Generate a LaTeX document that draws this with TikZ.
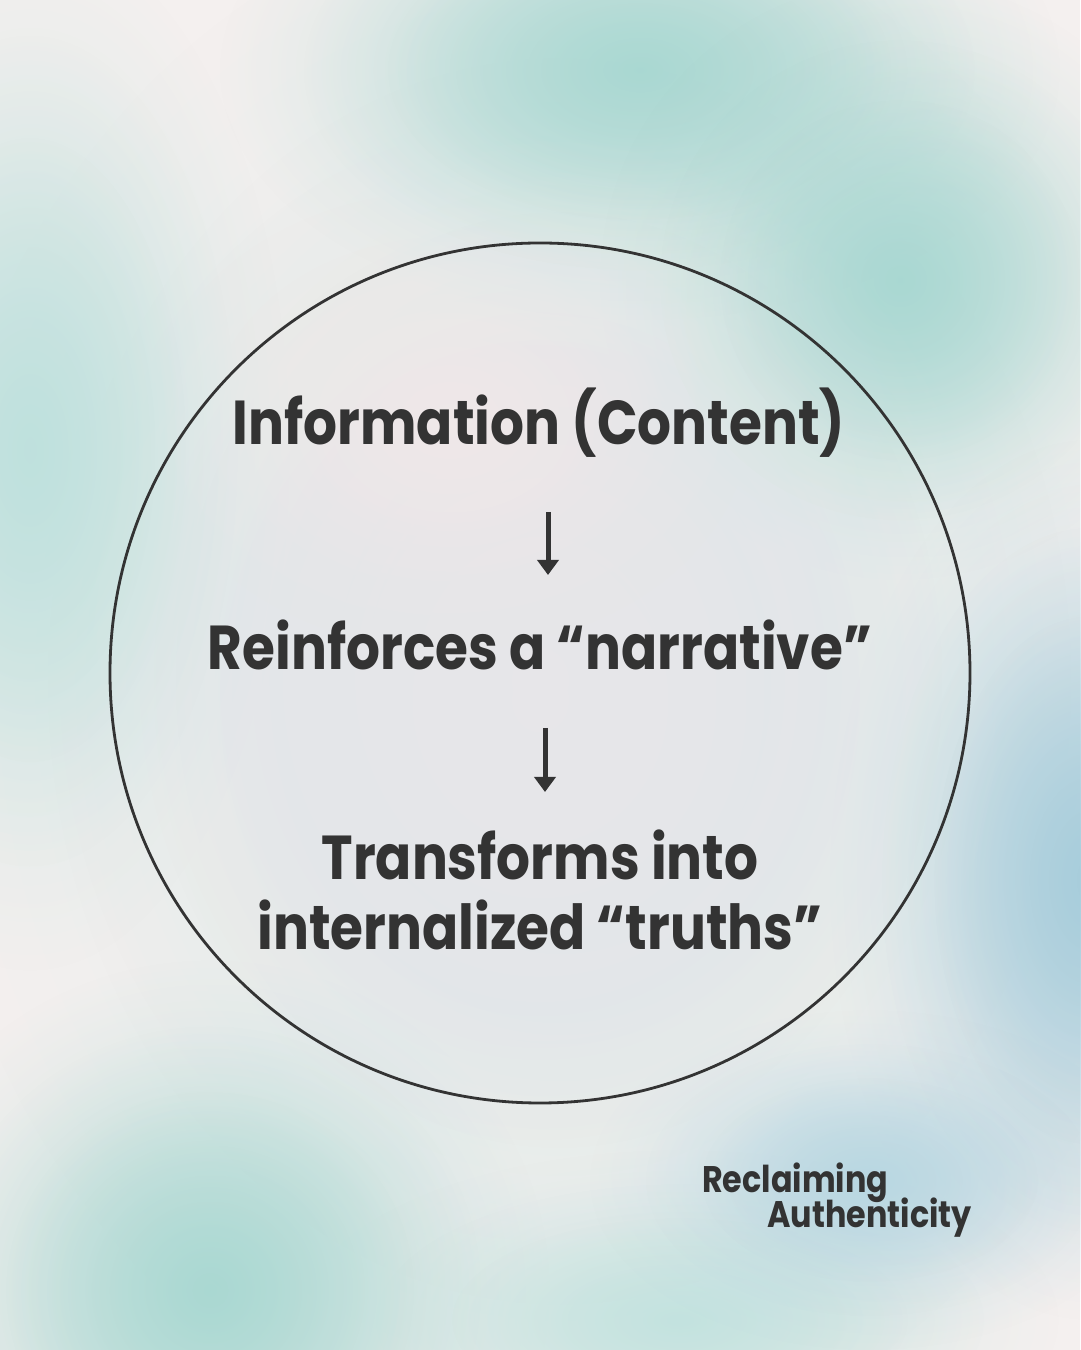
\documentclass[tikz,border=0pt]{standalone}
\usepackage{fontspec}
\setmainfont{Poppins}[FakeStretch=0.86]
\usetikzlibrary{arrows.meta,positioning,fadings}
\definecolor{ink}{HTML}{333333}
\definecolor{paper}{HTML}{F4F0EF}
\definecolor{tealmist}{HTML}{A3D6D0}
\definecolor{bluemist}{HTML}{A0CADA}
\definecolor{greymist}{HTML}{E8E6E9}
\definecolor{rosemist}{HTML}{F1E9E8}
\tikzfading[name=soft, inner color=transparent!0, outer color=transparent!100]
\tikzset{
  blob/.style={fill=#1,path fading=soft,fill opacity=0.55},
  headline/.style={font=\fontsize{62}{70}\selectfont\bfseries,text=ink,inner sep=0pt,align=center},
  brand/.style={font=\fontsize{37}{40}\selectfont\bfseries,text=ink,inner sep=0pt},
  flow/.style={draw=ink,line width=5pt,-{Triangle[length=15pt,width=21pt]}},
}

\begin{document}
\begin{tikzpicture}[x=1pt,y=1pt]
 \def\mist#1#2#3#4{\foreach \k in {1,0.8,0.6}{\fill[blob=#1] (#2) ellipse [x radius={#3*\k*1pt}, y radius={#4*\k*1pt}];}}
 \useasboundingbox (0,0) rectangle (1080,1350);
 % soft background
 \fill[paper] (0,0) rectangle (1080,1350);
 \mist{tealmist!45}{560,670}{640}{780}
 \mist{tealmist}{640,1280}{420}{250}
 \mist{tealmist}{900,1070}{300}{300}
 \mist{tealmist!75}{30,900}{260}{520}
 \mist{tealmist}{210,60}{340}{330}
 \mist{tealmist!70}{680,30}{380}{170}
 \mist{bluemist}{1090,470}{260}{440}
 \mist{bluemist!80}{870,170}{280}{170}
 \mist{greymist}{540,670}{480}{560}
 \mist{greymist}{540,670}{400}{460}
 \mist{greymist}{540,650}{320}{360}
 \mist{rosemist}{450,930}{300}{230}
 % ring
 \node[draw=ink,line width=2.8pt,circle,minimum size=860pt,inner sep=0pt] (ring) at (540,677) {};
 % steps
 \node[headline,anchor=base] (info) at (539,905) {Information (Content)};
 \node[headline,anchor=base] (reinf) at (540,680) {Reinforces a “narrative”};
 \node[headline,anchor=base] (trans) at (540,400) {Transforms into\\internalized “truths”};
 \draw[flow] ([xshift=9pt,yshift=-67pt]info.base) -- ([xshift=8pt,yshift=95pt]reinf.base);
 \draw[flow] ([xshift=5pt,yshift=-58pt]reinf.base) -- ([xshift=5pt,yshift=158pt]trans.base);
 % brand
 \node[brand,anchor=base west] (reclaim) at (702,157) {Reclaiming};
 \node[brand,anchor=base east] (authent) at (972,122) {Authenticity};
\end{tikzpicture}
\end{document}
